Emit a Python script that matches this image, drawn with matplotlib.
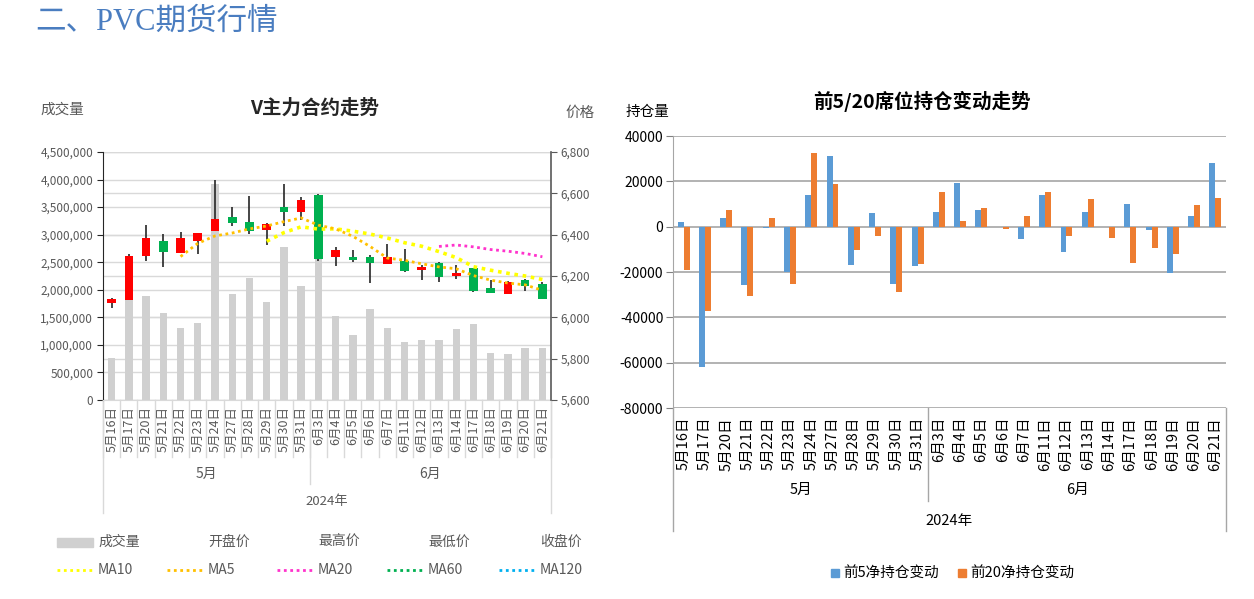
import matplotlib
matplotlib.use('Agg')
import matplotlib.pyplot as plt
import matplotlib.transforms as mtransforms
from matplotlib.lines import Line2D
from matplotlib.patches import Rectangle
import numpy as np

plt.rcParams['font.family'] = ['Noto Sans CJK SC', 'DejaVu Sans']

# ---------------- data ----------------
dates = ['5月16日', '5月17日', '5月20日', '5月21日', '5月22日', '5月23日', '5月24日',
         '5月27日', '5月28日', '5月29日', '5月30日', '5月31日',
         '6月3日', '6月4日', '6月5日', '6月6日', '6月7日', '6月11日', '6月12日',
         '6月13日', '6月14日', '6月17日', '6月18日', '6月19日', '6月20日', '6月21日']
months = ['5月', '6月']
month_counts = [12, 14]
year_label = '2024年'

volume = [770000, 1850000, 1890000, 1580000, 1310000, 1400000, 3920000, 1920000,
          2220000, 1770000, 2780000, 2070000, 2580000, 1520000, 1180000, 1650000,
          1300000, 1050000, 1090000, 1090000, 1290000, 1370000, 860000, 830000,
          940000, 940000]
open_p = [6068, 6084, 6295, 6369, 6310, 6371, 6419, 6486, 6461, 6423, 6535, 6511,
          6592, 6294, 6292, 6294, 6259, 6271, 6228, 6261, 6201, 6239, 6142, 6114,
          6181, 6161]
high_p = [6094, 6305, 6447, 6405, 6414, 6407, 6665, 6534, 6587, 6455, 6644, 6584,
          6597, 6340, 6324, 6300, 6355, 6329, 6253, 6268, 6252, 6241, 6181, 6174,
          6184, 6172]
low_p = [6047, 6082, 6273, 6245, 6310, 6305, 6419, 6443, 6405, 6349, 6443, 6471,
         6274, 6248, 6266, 6168, 6258, 6221, 6182, 6172, 6184, 6125, 6116, 6112,
         6129, 6088]
close_p = [6087, 6297, 6384, 6318, 6384, 6407, 6476, 6456, 6419, 6453, 6510, 6568,
           6282, 6326, 6276, 6261, 6290, 6226, 6244, 6197, 6216, 6127, 6116, 6172,
           6152, 6090]
nan = float('nan')
ma5 = [nan, nan, nan, nan, 6294, 6358, 6394, 6408, 6428, 6442, 6463, 6481, 6446,
       6428, 6392, 6343, 6287, 6276, 6259, 6244, 6235, 6202, 6180, 6166, 6157, 6131]
ma10 = [nan] * 9 + [6368, 6410, 6438, 6427, 6428, 6417, 6403, 6384, 6361, 6344,
                    6318, 6289, 6245, 6228, 6213, 6200, 6183]
ma20 = [nan] * 19 + [6343, 6350, 6341, 6328, 6320, 6309, 6293]

top5_change = [2200, -61800, 3800, -25600, -500, -20100, 14100, 31200, -17100, 5900,
               -25400, -17200, 6500, 19400, 7500, 0, -5300, 13800, -11200, 6300,
               0, 10100, -1300, -20600, 4900, 28100]
top20_change = [-19300, -37200, 7200, -30600, 3700, -25400, 32400, 18700, -10400,
                -4300, -29000, -16300, 15300, 2500, 8400, -1200, 4700, 15400, -4000,
                12100, -5100, -15900, -9600, -12100, 9600, 12500]

vol_ticks = list(range(0, 4500001, 500000))
price_ticks = list(range(5600, 6801, 200))
pos_ticks = list(range(-80000, 40001, 20000))

# ---------------- figure ----------------
W, H = 1254, 599
fig = plt.figure(figsize=(W / 100, H / 100), dpi=100)


def rect(l, t, r, b):
    return [l / W, 1 - b / H, (r - l) / W, (b - t) / H]


def fx(x):
    return x / W


def fy(y):
    return 1 - y / H


fig.text(fx(35), fy(22), '二、PVC期货行情', fontsize=22, color='#4a7dc0',
         va='center', ha='left', family=['Liberation Serif', 'Noto Sans CJK SC'])

# ---------------- left chart ----------------
L_l, L_t, L_r, L_b = 103, 152, 551, 400
ax1 = fig.add_axes(rect(L_l, L_t, L_r, L_b))
x = np.arange(len(dates))
ax1.bar(x, volume, width=0.43, color='#d0d0d0', zorder=2)
ax1.set_xlim(-0.5, len(dates) - 0.5)
ax1.set_ylim(0, 4500000)
ax1.set_yticks(vol_ticks)
ax1.set_yticklabels([f'{v:,}' for v in vol_ticks], fontsize=8.5, color='#595959')
ax1.set_xticks([])
for v in vol_ticks:
    ax1.axhline(v, color='#d9d9d9', lw=1, zorder=1)
ax1.spines['top'].set_visible(False)
ax1.spines['bottom'].set_color('#d9d9d9')
ax1.spines['left'].set_color('#262626')
ax1.spines['right'].set_visible(False)
ax1.tick_params(axis='y', length=4, color='#262626', pad=3)

ax2 = ax1.twinx()
ax2.set_ylim(5600, 6800)
ax2.set_yticks(price_ticks)
ax2.set_yticklabels([f'{v:,}' for v in price_ticks], fontsize=8.5, color='#595959')
ax2.spines['top'].set_visible(False)
ax2.spines['left'].set_visible(False)
ax2.spines['bottom'].set_visible(False)
ax2.spines['right'].set_color('#595959')
ax2.spines['right'].set_linewidth(1.2)
ax2.tick_params(axis='y', length=4, color='#595959', pad=3)

blend = mtransforms.blended_transform_factory(ax1.transAxes, ax2.transData)
for v in price_ticks:
    ax1.plot([0, 1], [v, v], transform=blend, color='#d9d9d9', lw=1, zorder=1)

ax2.vlines(x, low_p, high_p, color='#262626', lw=1.2, zorder=3)
body_col = ['#ff0000' if c >= o else '#00b050' for o, c in zip(open_p, close_p)]
bottoms = [min(o, c) for o, c in zip(open_p, close_p)]
heights = [max(abs(c - o), 3) for o, c in zip(open_p, close_p)]
ax2.bar(x, heights, bottom=bottoms, width=0.5, color=body_col, zorder=4)
ax2.plot(x, ma10, color='#ffff00', ls=(0, (1, 1.3)), lw=2.6, zorder=5)
ax2.plot(x, ma5, color='#ffc000', ls=(0, (1, 1.3)), lw=2.0, zorder=5)
ax2.plot(x, ma20, color='#ff33cc', ls=(0, (1, 1.3)), lw=2.0, zorder=5)

# category labels
hL = L_b - L_t
tx1 = ax1.get_xaxis_transform()
for i, d in enumerate(dates):
    ax1.text(i, (L_b - 406) / hL, d, transform=tx1, rotation=90, ha='center',
             va='top', fontsize=9, color='#595959')
for i in range(len(dates) + 1):
    ax1.plot([i - 0.5, i - 0.5], [0, (L_b - 457) / hL], transform=tx1,
             color='#d9d9d9', lw=1, clip_on=False)
start = 0
for m, n in zip(months, month_counts):
    ax1.text(start + (n - 1) / 2, (L_b - 474) / hL, m, transform=tx1, ha='center',
             va='center', fontsize=10, color='#595959')
    start += n
ax1.plot([month_counts[0] - 0.5] * 2, [0, (L_b - 484) / hL], transform=tx1,
         color='#d9d9d9', lw=1, clip_on=False)
for xe in [-0.5, len(dates) - 0.5]:
    ax1.plot([xe, xe], [0, (L_b - 513) / hL], transform=tx1, color='#d9d9d9',
             lw=1, clip_on=False)
ax1.text((len(dates) - 1) / 2, (L_b - 501) / hL, year_label, transform=tx1,
         ha='center', va='center', fontsize=9.5, color='#595959')

fig.text(fx(315), fy(108), 'V主力合约走势', fontsize=14, fontweight='bold',
         color='#262626', ha='center', va='center')
fig.text(fx(40), fy(110), '成交量', fontsize=10.5, color='#595959', ha='left', va='center')
fig.text(fx(565), fy(113), '价格', fontsize=10.5, color='#595959', ha='left', va='center')

# left legend
row1 = ['成交量', '开盘价', '最高价', '最低价', '收盘价']
row2 = ['MA10', 'MA5', 'MA20', 'MA60', 'MA120']
row2_cols = ['#ffff00', '#ffc000', '#ff33cc', '#00b050', '#00b0f0']
text_x = [98, 208, 318, 428, 540]
fig.patches.append(Rectangle((fx(57), fy(547)), fx(93) - fx(57), fy(538) - fy(547),
                             transform=fig.transFigure, color='#d0d0d0'))
for tx_, lab in zip(text_x, row1):
    fig.text(fx(tx_), fy(542), lab, fontsize=10, color='#595959', ha='left', va='center')
for tx_, lab, c in zip(text_x, row2, row2_cols):
    fig.lines.append(Line2D([fx(tx_ - 41), fx(tx_ - 5)], [fy(570), fy(570)],
                            transform=fig.transFigure, color=c, ls=(0, (1, 1.3)), lw=2))
    fig.text(fx(tx_), fy(570), lab, fontsize=10, color='#595959', ha='left', va='center')

# ---------------- right chart ----------------
R_l, R_t, R_r, R_b = 673, 136, 1226, 408
ax3 = fig.add_axes(rect(R_l, R_t, R_r, R_b))
ax3.bar(x - 0.14, top5_change, width=0.28, color='#5b9bd5', zorder=3)
ax3.bar(x + 0.14, top20_change, width=0.28, color='#ed7d31', zorder=3)
ax3.set_xlim(-0.5, len(dates) - 0.5)
ax3.set_ylim(-80000, 40000)
ax3.set_yticks(pos_ticks)
ax3.set_yticklabels([str(v) for v in pos_ticks], fontsize=10, color='#000000')
ax3.set_xticks([])
for v in pos_ticks:
    ax3.axhline(v, color='#a6a6a6', lw=1.2, zorder=1)
for s in ['top', 'right', 'bottom']:
    ax3.spines[s].set_visible(False)
ax3.spines['left'].set_color('#a6a6a6')
ax3.tick_params(axis='y', length=5, color='#808080', pad=2)

hR = R_b - R_t
tx3 = ax3.get_xaxis_transform()
for i, d in enumerate(dates):
    ax3.text(i, (R_b - 417) / hR, d, transform=tx3, rotation=90, ha='center',
             va='top', fontsize=10.5, color='#000000')
start = 0
for m, n in zip(months, month_counts):
    ax3.text(start + (n - 1) / 2, (R_b - 490) / hR, m, transform=tx3, ha='center',
             va='center', fontsize=10.5, color='#000000')
    start += n
ax3.plot([month_counts[0] - 0.5] * 2, [0, (R_b - 501) / hR], transform=tx3,
         color='#a6a6a6', lw=1, clip_on=False)
for xe in [-0.5, len(dates) - 0.5]:
    ax3.plot([xe, xe], [0, (R_b - 531) / hR], transform=tx3, color='#a6a6a6',
             lw=1, clip_on=False)
ax3.text((len(dates) - 1) / 2, (R_b - 521) / hR, year_label, transform=tx3,
         ha='center', va='center', fontsize=10.5, color='#000000')

fig.text(fx(922), fy(101), '前5/20席位持仓变动走势', fontsize=14, fontweight='bold',
         color='#000000', ha='center', va='center')
fig.text(fx(626), fy(112), '持仓量', fontsize=10.5, color='#000000', ha='left', va='center')

# right legend
for sx, lab, c in [(831, '前5净持仓变动', '#5b9bd5'), (958, '前20净持仓变动', '#ed7d31')]:
    fig.patches.append(Rectangle((fx(sx), fy(577)), fx(8), fy(569) - fy(577),
                                 transform=fig.transFigure, color=c))
    fig.text(fx(sx + 12), fy(573), lab, fontsize=10.5, color='#000000',
             ha='left', va='center')

fig.savefig('out.png', dpi=100)
